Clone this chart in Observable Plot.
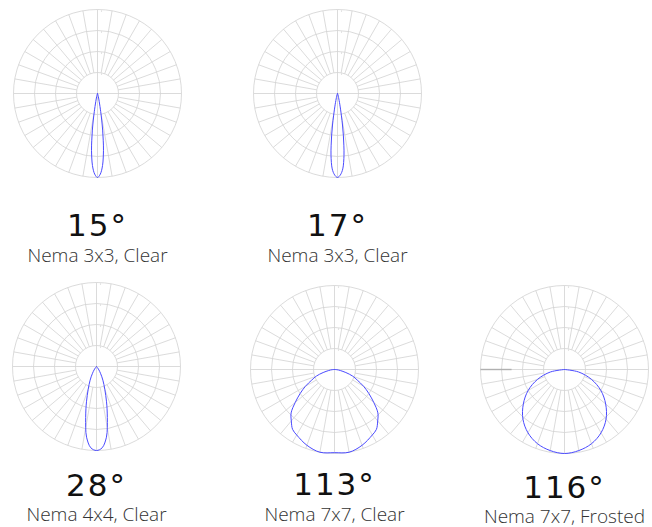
<!DOCTYPE html>
<html>
<head>
<meta charset="utf-8">
<script src="https://cdn.jsdelivr.net/npm/d3@7"></script>
<script src="https://cdn.jsdelivr.net/npm/@observablehq/plot@0.6"></script>
<style>
  html, body { margin: 0; padding: 0; background: #fff; }
  #chart { width: 652px; height: 527px; }
</style>
</head>
<body>
<div id="chart"></div>
<script>
// ---------- DATA ----------
const beamLabels = ["15°", "17°", "28°", "113°", "116°"];
const lensLabels = ["Nema 3x3, Clear", "Nema 3x3, Clear", "Nema 4x4, Clear", "Nema 7x7, Clear", "Nema 7x7, Frosted"];

// half-profiles: angle from nadir (deg) and relative intensity (1 = outer ring)
const angles15 = [0, 2, 4, 6, 7, 8, 9, 10, 12, 15, 20, 25];
const values15 = [1.0, 0.96, 0.86, 0.68, 0.56, 0.44, 0.32, 0.22, 0.10, 0.04, 0.01, 0];

const angles17 = [0, 2, 4, 6, 7, 8, 9, 10, 12, 15, 20, 25];
const values17 = [1.0, 0.97, 0.90, 0.74, 0.62, 0.50, 0.38, 0.27, 0.13, 0.05, 0.02, 0];

const angles28 = [0, 4, 8, 10, 12, 14, 16, 20, 25, 30, 35, 40, 50];
const values28 = [1.0, 0.97, 0.85, 0.74, 0.62, 0.52, 0.43, 0.29, 0.18, 0.10, 0.05, 0.02, 0];

const angles113 = [0, 10, 20, 30, 35, 40, 45, 50, 55, 60, 65, 70, 75, 80, 85, 90];
const values113 = [0.99, 1.0, 0.96, 0.90, 0.87, 0.80, 0.73, 0.61, 0.50, 0.40, 0.30, 0.23, 0.14, 0.07, 0.03, 0];

const angles116 = [0, 10, 20, 30, 40, 50, 60, 70, 80, 90];
const values116 = [1.0, 0.98, 0.94, 0.87, 0.77, 0.64, 0.50, 0.34, 0.17, 0];

// ---------- LAYOUT ----------
const W = 652, H = 527;
const R = 84;            // outer ring radius (px)
const rings = [1, 2, 3, 4];
const layout = [
  {cx: 97,  cy: 93,  ty: 235, sy: 261},
  {cx: 337, cy: 93,  ty: 235, sy: 261},
  {cx: 96,  cy: 366, ty: 495, sy: 520},
  {cx: 334, cy: 369, ty: 494, sy: 520},
  {cx: 564, cy: 369, ty: 497, sy: 522}
];
const profiles = [
  [angles15, values15], [angles17, values17], [angles28, values28],
  [angles113, values113], [angles116, values116]
];

const rad = d => d * Math.PI / 180;

const ringData = layout.flatMap((p, i) => rings.map(k => ({cx: p.cx, cy: p.cy, r: R * k / 4, panel: i})));

// spokes every 10 deg, from inner ring outward (axes through centre)
const spokes = [];
layout.forEach((p, i) => {
  for (let a = 0; a < 360; a += 10) {
    const axis = a % 90 === 0;
    const r0 = axis ? 0 : R / 4;
    spokes.push({
      x1: p.cx + r0 * Math.sin(rad(a)), y1: p.cy - r0 * Math.cos(rad(a)),
      x2: p.cx + R * Math.sin(rad(a)),  y2: p.cy - R * Math.cos(rad(a)),
      axis
    });
  }
});

// curves: mirror half-profile
const curves = layout.flatMap((p, i) => {
  const [ang, val] = profiles[i];
  const pts = [];
  for (let j = ang.length - 1; j >= 0; j--) pts.push({a: -ang[j], v: val[j]});
  for (let j = 1; j < ang.length; j++) pts.push({a: ang[j], v: val[j]});
  return pts.map(d => ({
    panel: i,
    x: p.cx + R * d.v * Math.sin(rad(d.a)),
    y: p.cy + R * d.v * Math.cos(rad(d.a))
  }));
});

const textData = layout.map((p, i) => ({x: p.cx, ty: p.ty, sy: p.sy, beam: beamLabels[i], lens: lensLabels[i]}));

const tickMarks = layout.flatMap(p => rings.map(k => ({x: p.cx + 4, y: p.cy - R * k / 4 + 1.5})));

// darker segment on the last panel's left axis
const extra = [{x1: layout[4].cx - R, x2: layout[4].cx - R * 0.63, y: layout[4].cy}];

const chart = Plot.plot({
  width: W, height: H,
  margin: 0,
  x: {type: "linear", domain: [0, W], range: [0, W], axis: null},
  y: {type: "linear", domain: [0, H], range: [0, H], axis: null},
  r: {type: "identity"},
  style: {background: "#fff"},
  marks: [
    Plot.link(spokes, {x1: "x1", y1: "y1", x2: "x2", y2: "y2", stroke: "#d2d2d2", strokeWidth: 0.8}),
    Plot.dot(ringData, {x: "cx", y: "cy", r: "r", stroke: "#d2d2d2", strokeWidth: 0.8, fill: "none"}),
    Plot.link(extra, {x1: "x1", x2: "x2", y1: "y", y2: "y", stroke: "#b0b0b0", strokeWidth: 1.4}),
    Plot.dot(tickMarks, {x: "x", y: "y", r: 0.6, fill: "#c8c8c8", stroke: "none"}),
    Plot.line(curves, {x: "x", y: "y", z: "panel", stroke: "#4a4aff", strokeWidth: 1, curve: "catmull-rom"}),
    Plot.text(textData, {x: "x", y: "ty", text: "beam", fontFamily: "DejaVu Sans", fontSize: 31, fontWeight: 400, fill: "#111", lineAnchor: "bottom"}),
    Plot.text(textData, {x: "x", y: "sy", text: "lens", fontFamily: "Open Sans", fontSize: 19, fontWeight: 300, fill: "#333", lineAnchor: "bottom"})
  ]
});
d3.select(chart).selectAll('g[font-size="31"]').attr("letter-spacing", "2px");
document.getElementById("chart").appendChild(chart);
</script>
</body>
</html>
